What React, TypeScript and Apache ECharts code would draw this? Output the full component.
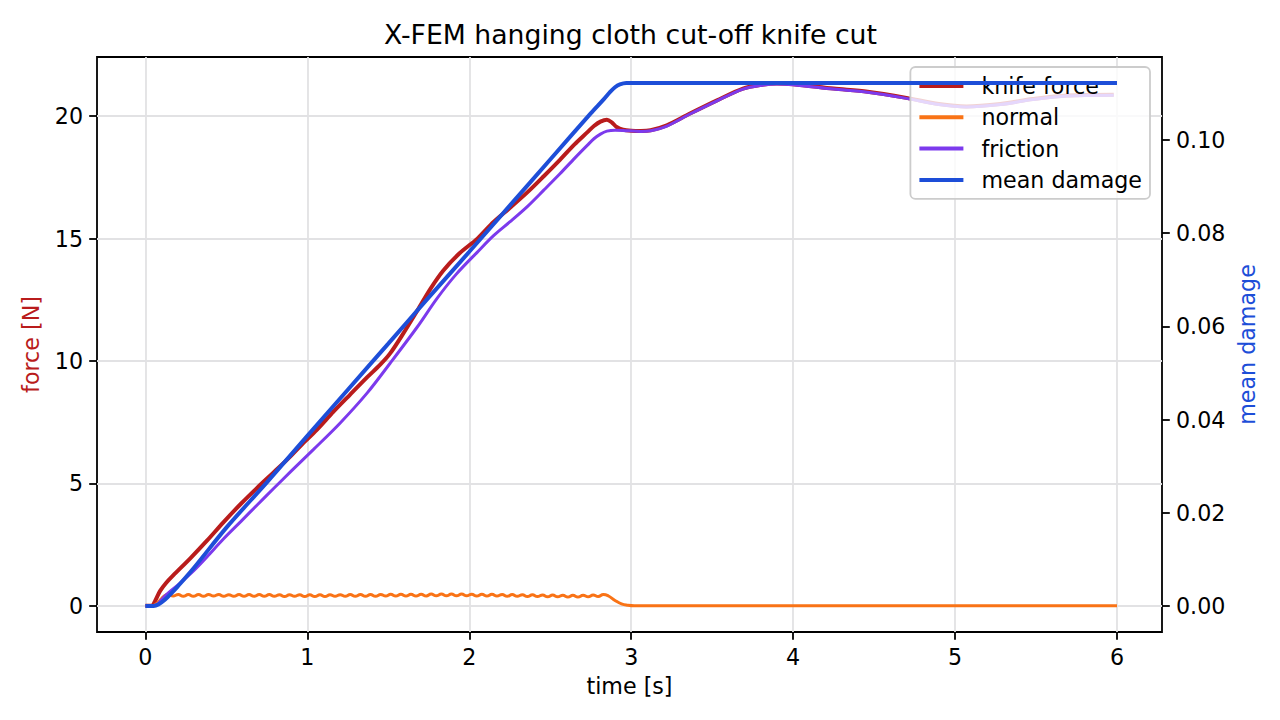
import React, { useEffect, useRef } from "react";
import * as echarts from "echarts";

// ---------- data ----------
const xTicks = [0, 1, 2, 3, 4, 5, 6];
const forceTicks = [0, 5, 10, 15, 20];
const damageTicks = [0, 0.02, 0.04, 0.06, 0.08, 0.1];

const knifeT = [0, 0.04, 0.06, 0.09, 0.13, 0.17, 0.28, 0.38, 0.48, 0.59, 0.69, 0.79, 0.88, 0.96, 1.06, 1.16, 1.26, 1.37, 1.45, 1.51, 1.59, 1.68, 1.76, 1.84, 1.94, 2.05, 2.15, 2.25, 2.36, 2.46, 2.56, 2.65, 2.73, 2.77, 2.81, 2.85, 2.88, 2.91, 2.95, 3.0, 3.06, 3.12, 3.22, 3.36, 3.53, 3.69, 3.8, 3.9, 4.0, 4.25, 4.46, 4.7, 4.9, 5.07, 5.28, 5.48, 5.69, 5.98];
const knifeF = [0, 0, 0.2, 0.6, 0.95, 1.23, 1.96, 2.66, 3.4, 4.17, 4.82, 5.44, 6.0, 6.55, 7.2, 7.92, 8.6, 9.34, 9.85, 10.3, 11.1, 12.07, 12.95, 13.7, 14.4, 15.0, 15.68, 16.25, 16.9, 17.55, 18.22, 18.85, 19.35, 19.6, 19.78, 19.86, 19.75, 19.56, 19.45, 19.41, 19.4, 19.43, 19.63, 20.1, 20.65, 21.13, 21.28, 21.34, 21.31, 21.13, 21.0, 20.75, 20.5, 20.4, 20.5, 20.7, 20.85, 20.88];

const frictionT = [0, 0.05, 0.08, 0.12, 0.2, 0.3, 0.38, 0.48, 0.59, 0.69, 0.79, 0.9, 1.04, 1.2, 1.37, 1.51, 1.68, 1.8, 1.92, 2.05, 2.15, 2.25, 2.36, 2.46, 2.56, 2.65, 2.73, 2.77, 2.81, 2.85, 2.9, 2.95, 3.06, 3.12, 3.22, 3.36, 3.53, 3.69, 3.8, 3.9, 4.0, 4.25, 4.46, 4.7, 4.9, 5.07, 5.28, 5.48, 5.69, 5.98];
const frictionF = [0, 0, 0.1, 0.4, 0.85, 1.45, 2.0, 2.72, 3.45, 4.12, 4.78, 5.5, 6.4, 7.45, 8.7, 9.9, 11.4, 12.55, 13.55, 14.45, 15.12, 15.68, 16.32, 16.98, 17.65, 18.28, 18.82, 19.08, 19.27, 19.39, 19.43, 19.42, 19.38, 19.41, 19.6, 20.08, 20.63, 21.11, 21.26, 21.32, 21.29, 21.11, 20.98, 20.73, 20.48, 20.38, 20.48, 20.68, 20.83, 20.86];

const normalT = [0, 0.04, 0.07, 0.1, 0.12,
  0.140, 0.171, 0.203, 0.234, 0.265, 0.296, 0.328, 0.359, 0.390, 0.421,
  0.453, 0.484, 0.515, 0.546, 0.578, 0.609, 0.640, 0.671, 0.703, 0.734,
  0.765, 0.796, 0.828, 0.859, 0.890, 0.921, 0.953, 0.984, 1.015, 1.046,
  1.078, 1.109, 1.140, 1.171, 1.203, 1.234, 1.265, 1.296, 1.328, 1.359,
  1.390, 1.421, 1.453, 1.484, 1.515, 1.546, 1.578, 1.609, 1.640, 1.671,
  1.703, 1.734, 1.765, 1.796, 1.828, 1.859, 1.890, 1.921, 1.953, 1.984,
  2.015, 2.046, 2.078, 2.109, 2.140, 2.171, 2.203, 2.234, 2.265, 2.296,
  2.328, 2.359, 2.390, 2.421, 2.453, 2.484, 2.515, 2.546, 2.578, 2.609,
  2.640, 2.671, 2.703, 2.734, 2.765, 2.796, 2.828,
  2.86, 2.9, 2.94, 2.98, 3.02, 6.0];
const normalF = [0, 0, 0.1, 0.3, 0.42,
  0.47, 0.40, 0.46, 0.39, 0.46, 0.39, 0.46, 0.39, 0.46, 0.40,
  0.46, 0.39, 0.45, 0.39, 0.46, 0.39, 0.46, 0.39, 0.46, 0.39,
  0.46, 0.39, 0.45, 0.38, 0.45, 0.39, 0.45, 0.38, 0.45, 0.38,
  0.45, 0.38, 0.45, 0.39, 0.45, 0.39, 0.46, 0.39, 0.46, 0.39,
  0.46, 0.39, 0.46, 0.40, 0.47, 0.40, 0.47, 0.40, 0.47, 0.40,
  0.47, 0.40, 0.48, 0.41, 0.48, 0.41, 0.48, 0.41, 0.48, 0.41,
  0.47, 0.40, 0.47, 0.40, 0.47, 0.40, 0.46, 0.39, 0.46, 0.39,
  0.45, 0.38, 0.45, 0.38, 0.44, 0.37, 0.44, 0.37, 0.43, 0.36,
  0.43, 0.36, 0.43, 0.37, 0.44, 0.38, 0.46,
  0.40, 0.22, 0.08, 0.02, 0.0, 0.0];

const damageT = [0, 0.05, 0.08, 0.12, 0.16, 0.2, 0.3, 0.5, 0.75, 1.0, 1.25, 1.5, 1.75, 2.0, 2.25, 2.5, 2.75, 2.83, 2.87, 2.9, 2.93, 2.97, 3.0, 6.0];
const damageV = [0, 0, 0.0003, 0.0013, 0.0027, 0.0042, 0.0082, 0.0168, 0.0265, 0.0365, 0.0464, 0.0563, 0.0662, 0.076, 0.0859, 0.0958, 0.1057, 0.1087, 0.1103, 0.1113, 0.1119, 0.1122, 0.1122, 0.1122];

const seriesNames = ["knife force", "normal", "friction", "mean damage"];
const colors = ["#b91c1c", "#f97316", "#7c3aed", "#1d4ed8"];

const pairs = (ts: number[], vs: number[]) => ts.map((t, i) => [t, vs[i]]);

const FONT = "DejaVu Sans";

export default function App() {
  const ref = useRef<HTMLDivElement>(null);
  useEffect(() => {
    if (!ref.current) return;
    const chart = echarts.init(ref.current, undefined, { renderer: "svg" });
    const tickStyle = { color: "#000", width: 1.8 };
    chart.setOption({
      animation: false,
      textStyle: { fontFamily: FONT },
      title: {
        text: "X-FEM hanging cloth cut-off knife cut",
        left: 625.5,
        top: 16,
        textAlign: "center",
        textStyle: { fontFamily: FONT, fontSize: 26.7, fontWeight: "normal", color: "#000" },
      },
      grid: {
        left: 97, right: 118, top: 57, bottom: 88,
        show: true, borderColor: "#000", borderWidth: 1.8, backgroundColor: "transparent",
      },
      legend: {
        orient: "vertical",
        top: 67,
        right: 130,
        backgroundColor: "rgba(255,255,255,0.8)",
        borderColor: "#cccccc",
        borderWidth: 1.8,
        borderRadius: 5,
        padding: [8, 8, 8, 9],
        itemGap: 9.3,
        itemWidth: 44,
        itemHeight: 4,
        icon: "rect",
        itemStyle: { borderWidth: 0 },
        textStyle: { fontFamily: FONT, fontSize: 22.2, color: "#000", padding: [0, 0, 0, 13] },
        data: seriesNames,
      },
      xAxis: {
        type: "value",
        min: -0.299,
        max: 6.278,
        name: "time [s]",
        nameLocation: "middle",
        nameGap: 43,
        nameTextStyle: { fontFamily: FONT, fontSize: 22.2, color: "#000" },
        axisLine: { show: false, onZero: false },
        axisTick: { show: true, length: 7.8, lineStyle: tickStyle, customValues: xTicks },
        axisLabel: { customValues: xTicks, fontFamily: FONT, fontSize: 22.2, color: "#000", margin: 14 },
        splitLine: { show: true, lineStyle: { color: "#e2e2e4", width: 1.8 } },
      },
      yAxis: [
        {
          type: "value",
          min: -1.07,
          max: 22.42,
          name: "force [N]",
          nameLocation: "middle",
          nameGap: 55,
          nameTextStyle: { fontFamily: FONT, fontSize: 22.2, color: colors[0] },
          axisLine: { show: false, onZero: false },
          axisTick: { show: true, length: 7.8, lineStyle: tickStyle, customValues: forceTicks },
          axisLabel: { customValues: forceTicks, fontFamily: FONT, fontSize: 22.2, color: "#000", margin: 14 },
          splitLine: { show: true, lineStyle: { color: "#e2e2e4", width: 1.8 } },
        },
        {
          type: "value",
          position: "right",
          min: -0.0056,
          max: 0.1178,
          name: "mean damage",
          nameLocation: "middle",
          nameGap: 70,
          nameTextStyle: { fontFamily: FONT, fontSize: 22.2, color: colors[3] },
          axisLine: { show: false, onZero: false },
          axisTick: { show: true, length: 7.8, lineStyle: tickStyle, customValues: damageTicks },
          axisLabel: {
            customValues: damageTicks,
            fontFamily: FONT, fontSize: 22.2, color: "#000", margin: 14,
            formatter: (v: number) => v.toFixed(2),
          },
          splitLine: { show: false },
        },
      ],
      series: [
        {
          name: seriesNames[0], type: "line", yAxisIndex: 0, data: pairs(knifeT, knifeF),
          showSymbol: false, symbol: "none", smooth: 0.3,
          lineStyle: { color: colors[0], width: 4 }, itemStyle: { color: colors[0] }, z: 2,
        },
        {
          name: seriesNames[1], type: "line", yAxisIndex: 0, data: pairs(normalT, normalF),
          showSymbol: false, symbol: "none", smooth: 0.5,
          lineStyle: { color: colors[1], width: 3 }, itemStyle: { color: colors[1] }, z: 2,
        },
        {
          name: seriesNames[2], type: "line", yAxisIndex: 0, data: pairs(frictionT, frictionF),
          showSymbol: false, symbol: "none", smooth: 0.3,
          lineStyle: { color: colors[2], width: 3 }, itemStyle: { color: colors[2] }, z: 2,
        },
        {
          name: seriesNames[3], type: "line", yAxisIndex: 1, data: pairs(damageT, damageV),
          showSymbol: false, symbol: "none", smooth: 0.3,
          lineStyle: { color: colors[3], width: 4 }, itemStyle: { color: colors[3] }, z: 5,
        },
      ],
    });
    return () => chart.dispose();
  }, []);
  return (
    <div
      ref={ref}
      style={{ position: "absolute", left: 0, top: 0, width: 1280, height: 720, background: "#fff" }}
    />
  );
}
